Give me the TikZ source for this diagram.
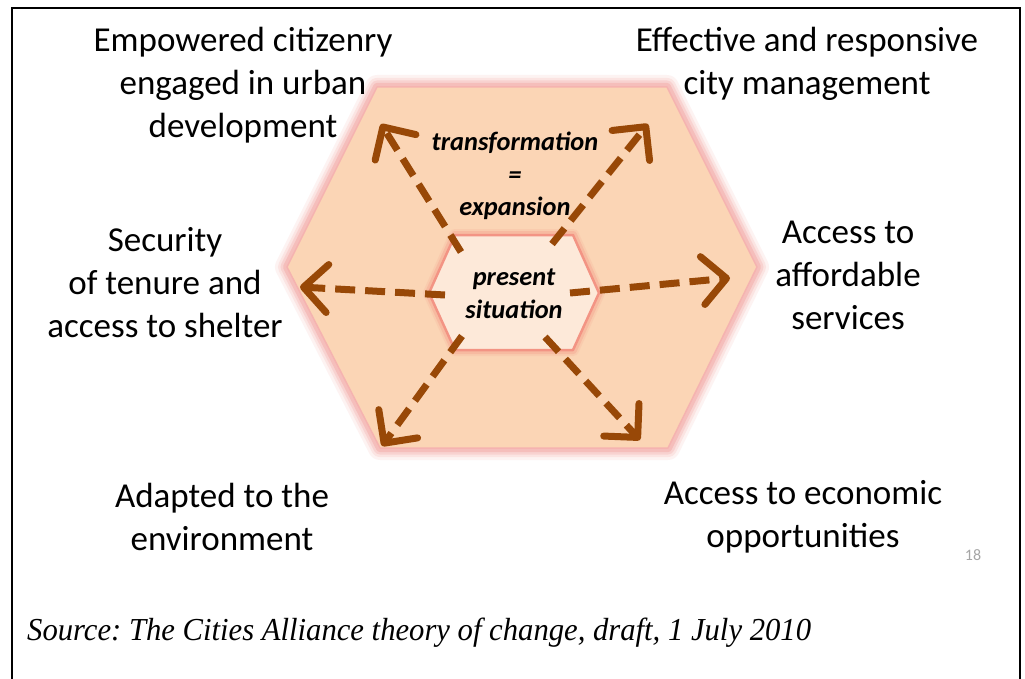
\documentclass[tikz,border=0pt]{standalone}
\usepackage{fontspec}
\setmainfont{Carlito}
\newfontfamily\srcfont{Liberation Serif}
\usetikzlibrary{arrows.meta}
\definecolor{hexfill}{HTML}{FBD5B5}
\definecolor{innerfill}{HTML}{FDE9D9}
\definecolor{glowc}{HTML}{F2A09C}
\definecolor{innerline}{HTML}{F39484}
\definecolor{arr}{HTML}{984807}
\definecolor{pgnum}{HTML}{A6A6A6}
\tikzset{
  lbl/.style={align=center, font=\fontsize{35}{43}\selectfont, inner sep=0pt},
  inlbl/.style={align=center, font=\fontsize{26.4}{32.5}\selectfont\bfseries\itshape, inner sep=0pt},
  darr/.style={draw=arr, line width=7pt, dash pattern=on 20pt off 10pt,
    -{Straight Barb[length=24pt, width=48pt, line width=7pt, line cap=round, line join=round]}},
}
\begin{document}
\frenchspacing
\begin{tikzpicture}[x=1pt, y=-1pt]
\useasboundingbox (0,0) rectangle (1025,679);
\fill[white] (0,0) rectangle (1025,679);
% frame
\draw[black, line width=2pt] (12,690) -- (12,8) -- (1020,8) -- (1020,690);
% outer hexagon with glow
\def\outerhex{(377,87) -- (667,87) -- (757,267) -- (668,448) -- (380,448) -- (287,267) -- cycle}
\foreach \w/\o in {24/0.12, 18/0.18, 13/0.25, 8/0.4}{
  \draw[glowc, line width=\w pt, line join=round, opacity=\o] \outerhex;
}
\fill[hexfill] \outerhex;
\draw[glowc!80!white, line width=1.5pt, line join=round] \outerhex;
% inner hexagon
\def\innerhex{(455,235) -- (573,235) -- (599,293) -- (573,350) -- (455,350) -- (429,293) -- cycle}
\foreach \w/\o in {12/0.15, 8/0.3}{
  \draw[innerline, line width=\w pt, line join=round, opacity=\o] \innerhex;
}
\fill[innerfill] \innerhex;
\draw[innerline, line width=2.5pt, line join=round] \innerhex;
% inner texts
\node[inlbl] (present) at (514,294) {present\\situation};
\node[inlbl] (trans) at (515,176) {transformation\\=\\expansion};
% arrow coordinates
\coordinate (s1) at (461,252); \coordinate (e1) at (381,124);
\coordinate (s2) at (552,244); \coordinate (e2) at (648,124);
\coordinate (s3) at (445,295); \coordinate (e3) at (300,287);
\coordinate (s4) at (570,293); \coordinate (e4) at (730,278);
\coordinate (s5) at (462,336); \coordinate (e5) at (382,446);
\coordinate (s6) at (545,337); \coordinate (e6) at (640,440);
\foreach \i in {1,...,6}{ \draw[darr] (s\i) -- (e\i); }
% outer labels
\node[lbl] (emp) at (243,85) {Empowered citizenry\\engaged in urban\\development};
\node[lbl] (eff) at (807,63.5) {Effective and responsive\\city management};
\node[lbl] (acc) at (848,275) {Access to\\affordable\\services};
\node[lbl] (sec) at (165,283) {Security\\of tenure and\\access to shelter};
\node[lbl] (ada) at (222,517) {Adapted to the\\environment};
\node[lbl] (eco) at (803,517) {Access to economic\\opportunities};
\node[font=\fontsize{16}{18}\selectfont, text=pgnum, inner sep=0pt] (num) at (973,555) {18};
\node[font=\srcfont\itshape\fontsize{32}{36}\selectfont, anchor=west, inner sep=0pt, xscale=0.958] (src) at (27,633) {Source: The Cities Alliance theory of change, draft, 1 July 2010};
\end{tikzpicture}
\end{document}
